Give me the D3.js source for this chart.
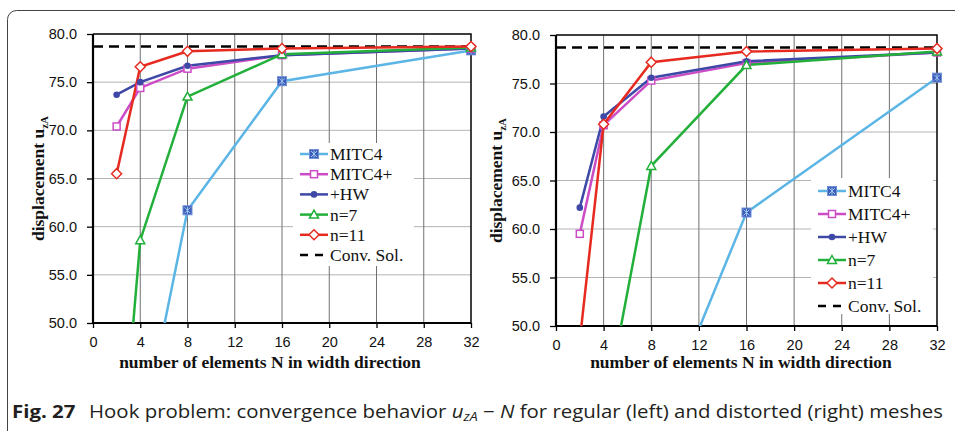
<!DOCTYPE html>
<html>
<head>
<meta charset="utf-8">
<script src="https://cdn.jsdelivr.net/npm/d3@7"></script>
<style>
  body { margin: 0; background: #fff; }
  svg { display: block; }
</style>
</head>
<body>
<svg id="chart"></svg>
<script>
// values (N = 2,4,8,16,32)
let nValues = [2, 4, 8, 16, 32];

let seriesNames = ['MITC4', 'MITC4+', '+HW', 'n=7', 'n=11'];

// regular mesh (left)
let regMITC4  = [null, 37.5, 61.7, 75.1, 78.3];
let regMITC4p = [70.4, 74.4, 76.4, 77.8, 78.5];
let regHW     = [73.7, 75.0, 76.7, 77.8, 78.5];
let regN7     = [29.5, 58.6, 73.5, 77.9, 78.6];
let regN11    = [65.5, 76.6, 78.2, 78.5, 78.7];

// distorted mesh (right)
let disMITC4  = [null, null, 37.7, 61.7, 75.6];
let disMITC4p = [59.5, 70.7, 75.3, 77.1, 78.2];
let disHW     = [62.2, 71.6, 75.6, 77.3, 78.2];
let disN7     = [null, 40.5, 66.5, 76.9, 78.3];
let disN11    = [48.5, 70.8, 77.2, 78.3, 78.6];

let convSol = 78.7;

let xTicks = [0, 4, 8, 12, 16, 20, 24, 28, 32];
let yTicks = [50, 55, 60, 65, 70, 75, 80];

let width = 955;
let height = 431;

let styles = {
    'MITC4':  {color: '#5bb5e5', marker: 'xsquare'},
    'MITC4+': {color: '#cc4cc6', marker: 'square'},
    '+HW':    {color: '#3e48a6', marker: 'circle'},
    'n=7':    {color: '#22b03a', marker: 'triangle'},
    'n=11':   {color: '#e62a20', marker: 'diamond'}
};

let svg = d3.select('#chart')
            .attr('width', width)
            .attr('height', height);

// outer frame of the figure
svg.append('rect')
   .attr('x', 7.5)
   .attr('y', 10.5)
   .attr('width', 1000)
   .attr('height', 500)
   .attr('rx', 9)
   .attr('fill', 'none')
   .attr('stroke', '#444')
   .attr('stroke-width', 1);

let drawMarker = (g, type, cx, cy, color) => {
    if (type === 'xsquare') {
        g.append('rect').attr('x', cx - 4.5).attr('y', cy - 4.5).attr('width', 9).attr('height', 9)
         .attr('fill', '#3d5db8').attr('stroke', '#6f8fd8').attr('stroke-width', 1);
        g.append('path')
         .attr('d', `M${cx-3},${cy-3}L${cx+3},${cy+3}M${cx+3},${cy-3}L${cx-3},${cy+3}M${cx},${cy-3.5}L${cx},${cy+3.5}`)
         .attr('stroke', '#9fc8f0').attr('stroke-width', 1);
    } else if (type === 'square') {
        g.append('rect').attr('x', cx - 3.5).attr('y', cy - 3.5).attr('width', 7).attr('height', 7)
         .attr('fill', '#fff').attr('stroke', color).attr('stroke-width', 1.5);
    } else if (type === 'circle') {
        g.append('circle').attr('cx', cx).attr('cy', cy).attr('r', 3.3).attr('fill', color);
    } else if (type === 'triangle') {
        g.append('path').attr('d', `M${cx},${cy-4.5}L${cx+4.5},${cy+3.5}L${cx-4.5},${cy+3.5}Z`)
         .attr('fill', '#fff').attr('stroke', color).attr('stroke-width', 1.5);
    } else if (type === 'diamond') {
        g.append('path').attr('d', `M${cx},${cy-5}L${cx+5},${cy}L${cx},${cy+5}L${cx-5},${cy}Z`)
         .attr('fill', '#fff').attr('stroke', color).attr('stroke-width', 1.5);
    }
};

let drawPanel = (cfg) => {
    let xScale = d3.scaleLinear().domain([0, 32]).range([cfg.left, cfg.right]);
    let yScale = d3.scaleLinear().domain([50, 80]).range([cfg.bottom, cfg.top]);

    let g = svg.append('g').attr('id', cfg.id);

    // grid
    g.selectAll('.hgrid')
     .data(yTicks.slice(1, -1))
     .enter().append('line')
     .attr('x1', cfg.left).attr('x2', cfg.right)
     .attr('y1', d => yScale(d)).attr('y2', d => yScale(d))
     .attr('stroke', '#b4b4b4').attr('stroke-width', 1);

    g.selectAll('.vgrid')
     .data(xTicks.slice(1, -1))
     .enter().append('line')
     .attr('x1', d => xScale(d)).attr('x2', d => xScale(d))
     .attr('y1', cfg.top).attr('y2', cfg.bottom)
     .attr('stroke', '#707070').attr('stroke-width', 1);

    // legend background hides grid
    g.append('rect')
     .attr('x', cfg.legend.x).attr('y', cfg.legend.y)
     .attr('width', cfg.legend.w).attr('height', cfg.legend.h)
     .attr('fill', '#fff');

    // axes
    let xAxis = d3.axisBottom(xScale).tickValues(xTicks).tickSize(5).tickPadding(9).tickFormat(d3.format('d'));
    let yAxis = d3.axisLeft(yScale).tickValues(yTicks).tickSize(6).tickPadding(10).tickFormat(d3.format('.1f'));

    let gx = g.append('g').attr('transform', `translate(0, ${cfg.bottom})`).call(xAxis);
    let gy = g.append('g').attr('transform', `translate(${cfg.left}, 0)`).call(yAxis);
    [gx, gy].forEach(a => {
        a.select('.domain').remove();
        a.selectAll('line').attr('stroke', '#000').attr('stroke-width', 1.3);
        a.selectAll('text')
         .attr('fill', '#111')
         .style('font-family', '"Liberation Sans", Arial, sans-serif')
         .style('font-size', '14.5px');
    });

    // plot frame
    g.append('path')
     .attr('d', `M${cfg.left},${cfg.top}H${cfg.right}V${cfg.bottom}`)
     .attr('fill', 'none').attr('stroke', '#000').attr('stroke-width', 1.5);
    g.append('path')
     .attr('d', `M${cfg.left},${cfg.top}V${cfg.bottom}H${cfg.right}`)
     .attr('fill', 'none').attr('stroke', '#000').attr('stroke-width', 2.2);

    // clip
    let clipId = cfg.id + '-clip';
    svg.append('defs').append('clipPath').attr('id', clipId)
       .append('rect')
       .attr('x', cfg.left).attr('y', cfg.top)
       .attr('width', cfg.right - cfg.left).attr('height', cfg.bottom - cfg.top);

    let plot = g.append('g').attr('clip-path', `url(#${clipId})`);

    // converged solution
    plot.append('line')
        .attr('x1', xScale(0)).attr('x2', xScale(32))
        .attr('y1', yScale(convSol)).attr('y2', yScale(convSol))
        .attr('stroke', '#000').attr('stroke-width', 2.5)
        .attr('stroke-dasharray', '10,6');

    let line = d3.line()
                 .defined(d => d.v !== null)
                 .x(d => xScale(d.n))
                 .y(d => yScale(d.v));

    seriesNames.forEach((name, i) => {
        let pts = nValues.map((n, j) => ({n: n, v: cfg.series[i][j]}));
        plot.append('path')
            .datum(pts)
            .attr('d', line)
            .attr('fill', 'none')
            .attr('stroke', styles[name].color)
            .attr('stroke-width', 2.5);
    });

    let marks = g.append('g');
    seriesNames.forEach((name, i) => {
        nValues.forEach((n, j) => {
            let v = cfg.series[i][j];
            if (v === null || v < 50 || v > 80) return;
            drawMarker(marks, styles[name].marker, xScale(n), yScale(v), styles[name].color);
        });
    });

    // legend
    let lg = g.append('g');
    let lx = cfg.legend.x + 7;
    seriesNames.concat(['Conv. Sol.']).forEach((name, i) => {
        let y = cfg.legend.y0 + i * cfg.legend.step;
        if (name === 'Conv. Sol.') {
            lg.append('line').attr('x1', lx).attr('x2', lx + 28).attr('y1', y).attr('y2', y)
              .attr('stroke', '#000').attr('stroke-width', 2.5).attr('stroke-dasharray', '8,7');
        } else {
            lg.append('line').attr('x1', lx).attr('x2', lx + 28).attr('y1', y).attr('y2', y)
              .attr('stroke', styles[name].color).attr('stroke-width', 2.5);
            drawMarker(lg, styles[name].marker, lx + 14, y, styles[name].color);
        }
        lg.append('text')
          .attr('x', lx + 30).attr('y', y + 6)
          .style('font-family', '"Liberation Serif", "Times New Roman", serif')
          .style('font-size', '17.5px')
          .attr('fill', '#111')
          .text(name);
    });

    // axis titles
    g.append('text')
     .attr('x', cfg.xLabelX).attr('y', 368)
     .attr('text-anchor', 'middle')
     .style('font-family', '"Liberation Serif", "Times New Roman", serif')
     .style('font-weight', 'bold')
     .style('font-size', '17.5px')
     .attr('fill', '#111')
     .text('number of elements N in width direction');

    let yl = g.append('text')
              .attr('transform', `translate(${cfg.yLabelX}, ${(cfg.top + cfg.bottom) / 2}) rotate(-90)`)
              .attr('text-anchor', 'middle')
              .style('font-family', '"Liberation Serif", "Times New Roman", serif')
              .style('font-weight', 'bold')
              .style('font-size', '17.5px')
              .attr('fill', '#111');
    yl.append('tspan').text('displacement u');
    yl.append('tspan').attr('dy', 4).style('font-size', '11px').text('zA');
};

drawPanel({
    id: 'regular',
    left: 93, right: 471, top: 34, bottom: 323,
    series: [regMITC4, regMITC4p, regHW, regN7, regN11],
    legend: {x: 293, y: 143, w: 121, h: 123, y0: 154, step: 20.2},
    xLabelX: 270, yLabelX: 44
});

drawPanel({
    id: 'distorted',
    left: 556, right: 937, top: 35, bottom: 326,
    series: [disMITC4, disMITC4p, disHW, disN7, disN11],
    legend: {x: 811, y: 178, w: 122, h: 136, y0: 191, step: 23},
    xLabelX: 741, yLabelX: 502
});

// caption
let cap = svg.append('text')
             .attr('x', 12).attr('y', 418)
             .attr('fill', '#231f20')
             .style('font-family', '"Open Sans", "Noto Sans", sans-serif')
             .style('font-size', '18px');
cap.append('tspan').style('font-weight', 'bold').text('Fig. 27');
cap.append('tspan').attr('dx', 12).text('Hook problem: convergence behavior ');
cap.append('tspan').style('font-style', 'italic').text('u');
cap.append('tspan').style('font-style', 'italic').style('font-size', '12.5px').attr('dy', 3).text('zA');
cap.append('tspan').attr('dy', -3).text(' \u2212 ');
cap.append('tspan').style('font-style', 'italic').text('N');
cap.append('tspan').text(' for regular (left) and distorted (right) meshes');

// the original face is wider than what we have, so stretch to the same span
cap.attr('textLength', 931).attr('lengthAdjust', 'spacingAndGlyphs');
</script>
</body>
</html>
